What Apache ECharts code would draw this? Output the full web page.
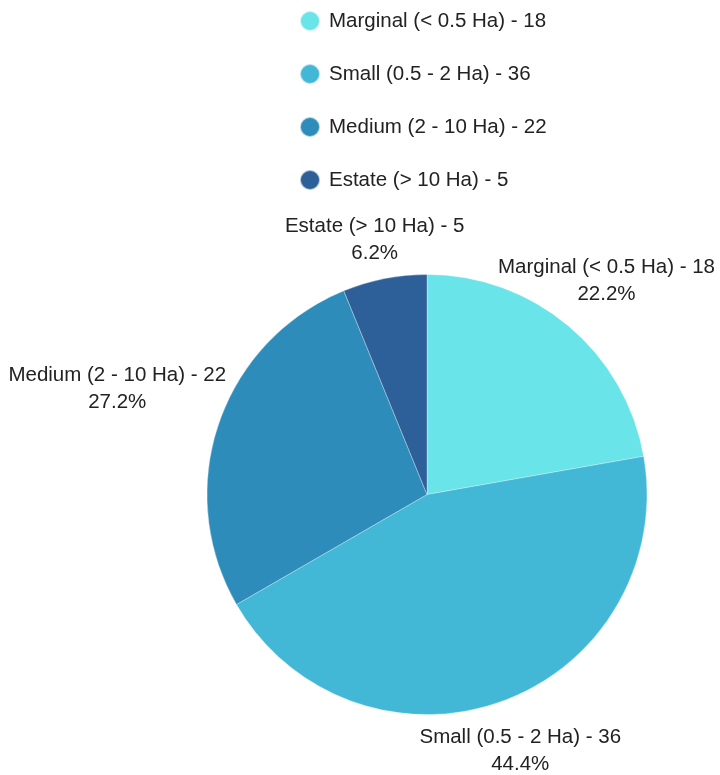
<!DOCTYPE html>
<html>
<head>
<meta charset="utf-8">
<script src="https://cdn.jsdelivr.net/npm/echarts@6/dist/echarts.min.js"></script>
<style>
  html, body { margin: 0; padding: 0; background: #fff; }
  #chart { width: 720px; height: 775px; }
</style>
</head>
<body>
<div id="chart"></div>
<script>
// Farm size classes and their holding counts
const categories = ['Marginal (< 0.5 Ha)', 'Small (0.5 - 2 Ha)', 'Medium (2 - 10 Ha)', 'Estate (> 10 Ha)'];
const counts = [18, 36, 22, 5];
const colors = ['#69E4E8', '#42B7D6', '#2E8CBA', '#2D5F98'];

const CENTER = [427, 494.5];
const RADIUS = 220;
const LABEL_GAP = 24;
const LABEL_MIN_TOP = 213;   // keep slice labels clear of the legend block

const total = counts.reduce((a, b) => a + b, 0);
const lookup = {};
categories.forEach((c, i) => { lookup[c] = counts[i]; });

// mid angle of each slice, measured clockwise from 12 o'clock
function midAngle(idx) {
  let before = 0;
  for (let i = 0; i < idx; i++) before += counts[i];
  return ((before + counts[idx] / 2) / total) * Math.PI * 2;
}

const chart = echarts.init(document.getElementById('chart'), null, { renderer: 'canvas' });

chart.setOption({
  animation: false,
  color: colors,
  textStyle: { fontFamily: 'Liberation Sans, Arial, sans-serif' },
  legend: {
    orient: 'vertical',
    left: 299,
    top: 10,
    padding: 0,
    icon: 'circle',
    itemWidth: 20,
    itemHeight: 20,
    itemGap: 31,
    formatter: name => name + ' - ' + lookup[name],
    textStyle: { fontSize: 20.5, lineHeight: 20, color: '#222', padding: [0, 0, 0, 4] }
  },
  series: [{
    type: 'pie',
    center: CENTER,
    radius: RADIUS,
    startAngle: 90,
    clockwise: true,
    percentPrecision: 1,
    itemStyle: { borderColor: 'rgba(255,255,255,0.6)', borderWidth: 0.5 },
    label: {
      show: true,
      position: 'outside',
      formatter: '{b} - {c}\n{d}%',
      fontSize: 20.5,
      lineHeight: 27,
      color: '#222',
      align: 'center',
      overflow: 'none'
    },
    labelLine: { show: false },
    labelLayout: function (p) {
      const a = midAngle(p.dataIndex);
      const ux = Math.sin(a), uy = -Math.cos(a);
      const hw = p.labelRect.width / 2, hh = p.labelRect.height / 2;
      const tx = Math.abs(ux) > 1e-6 ? hw / Math.abs(ux) : Infinity;
      const ty = Math.abs(uy) > 1e-6 ? hh / Math.abs(uy) : Infinity;
      const d = RADIUS + LABEL_GAP + Math.min(tx, ty);
      let y = CENTER[1] + d * uy;
      if (y - hh < LABEL_MIN_TOP) y = LABEL_MIN_TOP + hh;
      return {
        x: CENTER[0] + d * ux,
        y: y,
        align: 'center',
        verticalAlign: 'middle'
      };
    },
    data: categories.map((c, i) => ({ name: c, value: counts[i] }))
  }]
});
</script>
</body>
</html>
